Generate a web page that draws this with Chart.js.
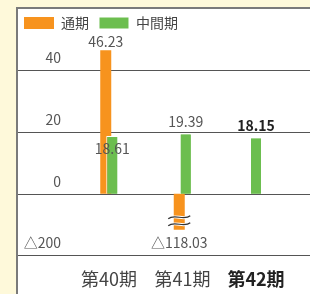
<!DOCTYPE html>
<html lang="ja">
<head>
<meta charset="utf-8">
<script src="https://cdn.jsdelivr.net/npm/chart.js@4/dist/chart.umd.min.js"></script>
<style>
  html, body { margin: 0; padding: 0; background: #fef9da; }
  body { width: 310px; height: 294px; position: relative; overflow: hidden; }
  #panel {
    position: absolute; left: 16px; top: 7px;
    width: 292px; height: 285px;
    border-left: 2px solid #7a7a7a; border-top: 2px solid #7a7a7a;
    background: #fff;
  }
  canvas { display: block; }
</style>
</head>
<body>
<div id="panel"><canvas id="chart" width="292" height="285"></canvas></div>
<script>
// 期
const periods = ['第40期', '第41期', '第42期'];
// 通期・中間期の値（百万円）
const fullYear = [46.23, -118.03, null];
const interim = [18.61, 19.39, 18.15];
// 目盛り
const yTicks = [-200, 0, 20, 40];

// 負の領域は省略表示（△200 を 0 の下 19.68 目盛り分に圧縮）
const BREAK_K = 19.68 / 200;
const toAxis = v => (v === null ? null : (v < 0 ? v * BREAK_K : v));
const fmt = v => (v < 0 ? '△' + Math.abs(v) : String(v));

const FONT = "'Noto Sans CJK JP', 'Noto Sans', sans-serif";
Chart.defaults.font.family = FONT;

// 横線（パネルの端から端まで）
const fullGrid = {
  id: 'fullGrid',
  beforeDatasetsDraw(chart) {
    const {ctx, scales: {y}} = chart;
    ctx.save();
    ctx.strokeStyle = '#555';
    ctx.lineWidth = 1;
    y.ticks.forEach(t => {
      const py = Math.round(y.getPixelForValue(t.value)) + 0.5;
      ctx.beginPath();
      ctx.moveTo(0, py);
      ctx.lineTo(chart.width, py);
      ctx.stroke();
    });
    ctx.restore();
  }
};

// 中間期を手前に、数値ラベルと省略記号
const barLabels = {
  id: 'barLabels',
  afterDatasetsDraw(chart) {
    const {ctx} = chart;
    chart.getDatasetMeta(1).controller.draw();

    const sets = [fullYear, interim];
    const nudge = {'0-0': -8.5, '1-0': 13};
    ctx.save();
    ctx.textAlign = 'center';
    ctx.textBaseline = 'middle';
    sets.forEach((vals, di) => {
      chart.getDatasetMeta(di).data.forEach((el, i) => {
        const v = vals[i];
        if (v === null) return;
        const bold = di === 1 && i === vals.length - 1;
        ctx.font = (bold ? 'bold ' : '') + '14px ' + FONT;
        ctx.fillStyle = bold ? '#222' : '#555';
        const off = nudge[di + '-' + i] ?? (v < 0 ? 13 : -12);
        ctx.fillText(fmt(v), el.x, el.y + off);

        if (v < 0) {
          [el.y - 12.5, el.y - 5.5].forEach(wy => {
            const wave = () => {
              ctx.beginPath();
              ctx.moveTo(el.x - 11, wy + 1.5);
              ctx.bezierCurveTo(el.x - 5, wy - 4, el.x + 5, wy + 4, el.x + 11, wy - 1.5);
            };
            wave();
            ctx.strokeStyle = '#fff';
            ctx.lineWidth = 3;
            ctx.stroke();
            wave();
            ctx.strokeStyle = '#333';
            ctx.lineWidth = 1.2;
            ctx.stroke();
          });
        }
      });
    });
    ctx.restore();
  }
};

new Chart(document.getElementById('chart'), {
  type: 'bar',
  data: {
    labels: periods,
    datasets: [
      {
        label: '通期',
        data: fullYear.map(toAxis),
        backgroundColor: '#f7931e',
        borderWidth: 0,
        barPercentage: 1.9,
        categoryPercentage: 0.177,
        maxBarThickness: 11,
        skipNull: true
      },
      {
        label: '中間期',
        data: interim.map(toAxis),
        backgroundColor: '#6cbe4f',
        borderColor: '#fff',
        borderWidth: 1,
        barPercentage: 1.9,
        categoryPercentage: 0.177,
        maxBarThickness: 12,
        skipNull: true
      }
    ]
  },
  options: {
    responsive: false,
    devicePixelRatio: 1,
    animation: false,
    layout: {padding: {left: -4, top: -3, right: 17.25, bottom: -8.8}},
    plugins: {
      legend: {
        position: 'top',
        align: 'start',
        labels: {
          boxWidth: 30,
          boxHeight: 12,
          padding: 10,
          color: '#444',
          font: {size: 14}
        }
      },
      tooltip: {enabled: false}
    },
    scales: {
      x: {
        offset: true,
        grid: {display: false, drawTicks: false},
        border: {display: false},
        ticks: {
          padding: 13.2,
          color: c => (c.index === periods.length - 1 ? '#222' : '#444'),
          font: c => ({size: 18, weight: c.index === periods.length - 1 ? 'bold' : 'normal'})
        }
      },
      y: {
        min: toAxis(-200),
        max: 49.54,
        grid: {display: false, drawTicks: false},
        border: {display: false},
        afterBuildTicks: s => { s.ticks = yTicks.map(v => ({value: toAxis(v)})); },
        afterFit: s => { s.width = 58.25; },
        ticks: {
          padding: 11.25,
          labelOffset: -12,
          color: '#555',
          font: {size: 14},
          callback: (val, i) => fmt(yTicks[i])
        }
      }
    }
  },
  plugins: [fullGrid, barLabels]
});
</script>
</body>
</html>
